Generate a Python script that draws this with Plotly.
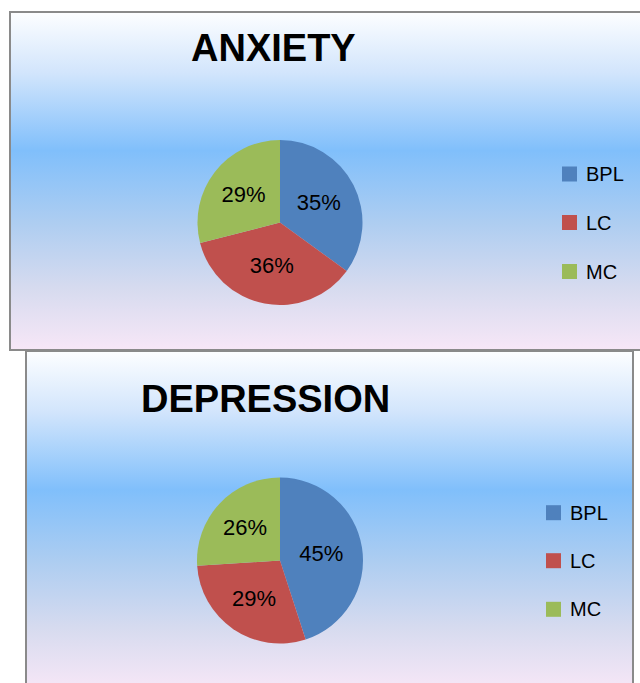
import base64
import plotly.graph_objects as go

# ---- data ----
categories = ["BPL", "LC", "MC"]
anxiety_pct = [35, 36, 29]
depression_pct = [45, 29, 26]
titles = ["ANXIETY", "DEPRESSION"]
colors = ["#4F81BD", "#C0504D", "#9BBB59"]

W, H = 640, 683


def px(x):
    return x / W


def py(y):
    return 1 - y / H


def gradient_uri():
    svg = (
        '<svg xmlns="http://www.w3.org/2000/svg" width="100" height="100" '
        'viewBox="0 0 100 100" preserveAspectRatio="none">'
        '<defs><linearGradient id="g" x1="0" y1="0" x2="0" y2="1">'
        '<stop offset="0" stop-color="#fdfeff"/>'
        '<stop offset="0.18" stop-color="#d2e5fc"/>'
        '<stop offset="0.41" stop-color="#80bffb"/>'
        '<stop offset="0.62" stop-color="#adcdf1"/>'
        '<stop offset="0.82" stop-color="#d7dbef"/>'
        '<stop offset="1" stop-color="#f7e7f7"/>'
        '</linearGradient></defs>'
        '<rect x="0" y="0" width="100" height="100" fill="url(#g)"/></svg>'
    )
    return "data:image/svg+xml;base64," + base64.b64encode(svg.encode()).decode()


GRAD = gradient_uri()

# panel geometry (pixels): x0, x1, y0, y1
panels = [
    dict(box=(10, 662, 12, 350), center=(280, 222.5), r=82.5,
         title_xy=(273, 48), leg_x=562, leg_y=[174, 222.5, 271.5], values=anxiety_pct),
    dict(box=(26, 633, 351, 690), center=(280, 560.5), r=83,
         title_xy=(265, 399), leg_x=546, leg_y=[512.7, 560.7, 609.3], values=depression_pct),
]

fig = go.Figure()
images, shapes, annotations = [], [], []

# draw bottom panel first so top panel's lower border lies over it
for i in [1, 0]:
    p = panels[i]
    x0, x1, y0, y1 = p["box"]
    images.append(dict(source=GRAD, xref="paper", yref="paper",
                       x=px(x0), y=py(y0), sizex=px(x1) - px(x0), sizey=py(y0) - py(y1),
                       xanchor="left", yanchor="top", sizing="stretch", layer="below"))
for i in [1, 0]:
    p = panels[i]
    x0, x1, y0, y1 = p["box"]
    shapes.append(dict(type="rect", xref="paper", yref="paper",
                       x0=px(x0), x1=px(x1), y0=py(y1), y1=py(y0),
                       line=dict(color="#8a8a8a", width=2), fillcolor="rgba(0,0,0,0)",
                       layer="below"))

for i, p in enumerate(panels):
    cx, cy = p["center"]
    r = p["r"]
    fig.add_trace(go.Pie(
        labels=categories, values=p["values"], sort=False, direction="clockwise",
        rotation=0, marker=dict(colors=colors, line=dict(width=0)),
        textinfo="percent", textposition="inside", insidetextorientation="horizontal",
        texttemplate="%{value}%",
        textfont=dict(family="Liberation Sans, Arial", size=22, color="black"),
        domain=dict(x=[px(cx - r), px(cx + r)], y=[py(cy + r), py(cy - r)]),
        showlegend=False, hoverinfo="label+percent",
    ))
    tx, ty = p["title_xy"]
    annotations.append(dict(text=titles[i], x=px(tx), y=py(ty), xref="paper", yref="paper",
                            showarrow=False, xanchor="center", yanchor="middle",
                            font=dict(family="Liberation Sans, Arial", size=38, color="black",
                                      weight="bold")))
    lx = p["leg_x"]
    for cat, col, ly in zip(categories, colors, p["leg_y"]):
        shapes.append(dict(type="rect", xref="paper", yref="paper",
                           x0=px(lx), x1=px(lx + 15), y0=py(ly + 7.5), y1=py(ly - 7.5),
                           fillcolor=col, line=dict(width=0), layer="above"))
        annotations.append(dict(text=cat, x=px(lx + 22), y=py(ly), xref="paper", yref="paper",
                                showarrow=False, xanchor="left", yanchor="middle",
                                font=dict(family="Liberation Sans, Arial", size=20, color="black")))

fig.update_layout(
    width=W, height=H, margin=dict(l=0, r=0, t=0, b=0),
    paper_bgcolor="white", plot_bgcolor="white",
    images=images, shapes=shapes, annotations=annotations,
    uniformtext=dict(minsize=22, mode="show"),
)

fig.write_html("out.html")
